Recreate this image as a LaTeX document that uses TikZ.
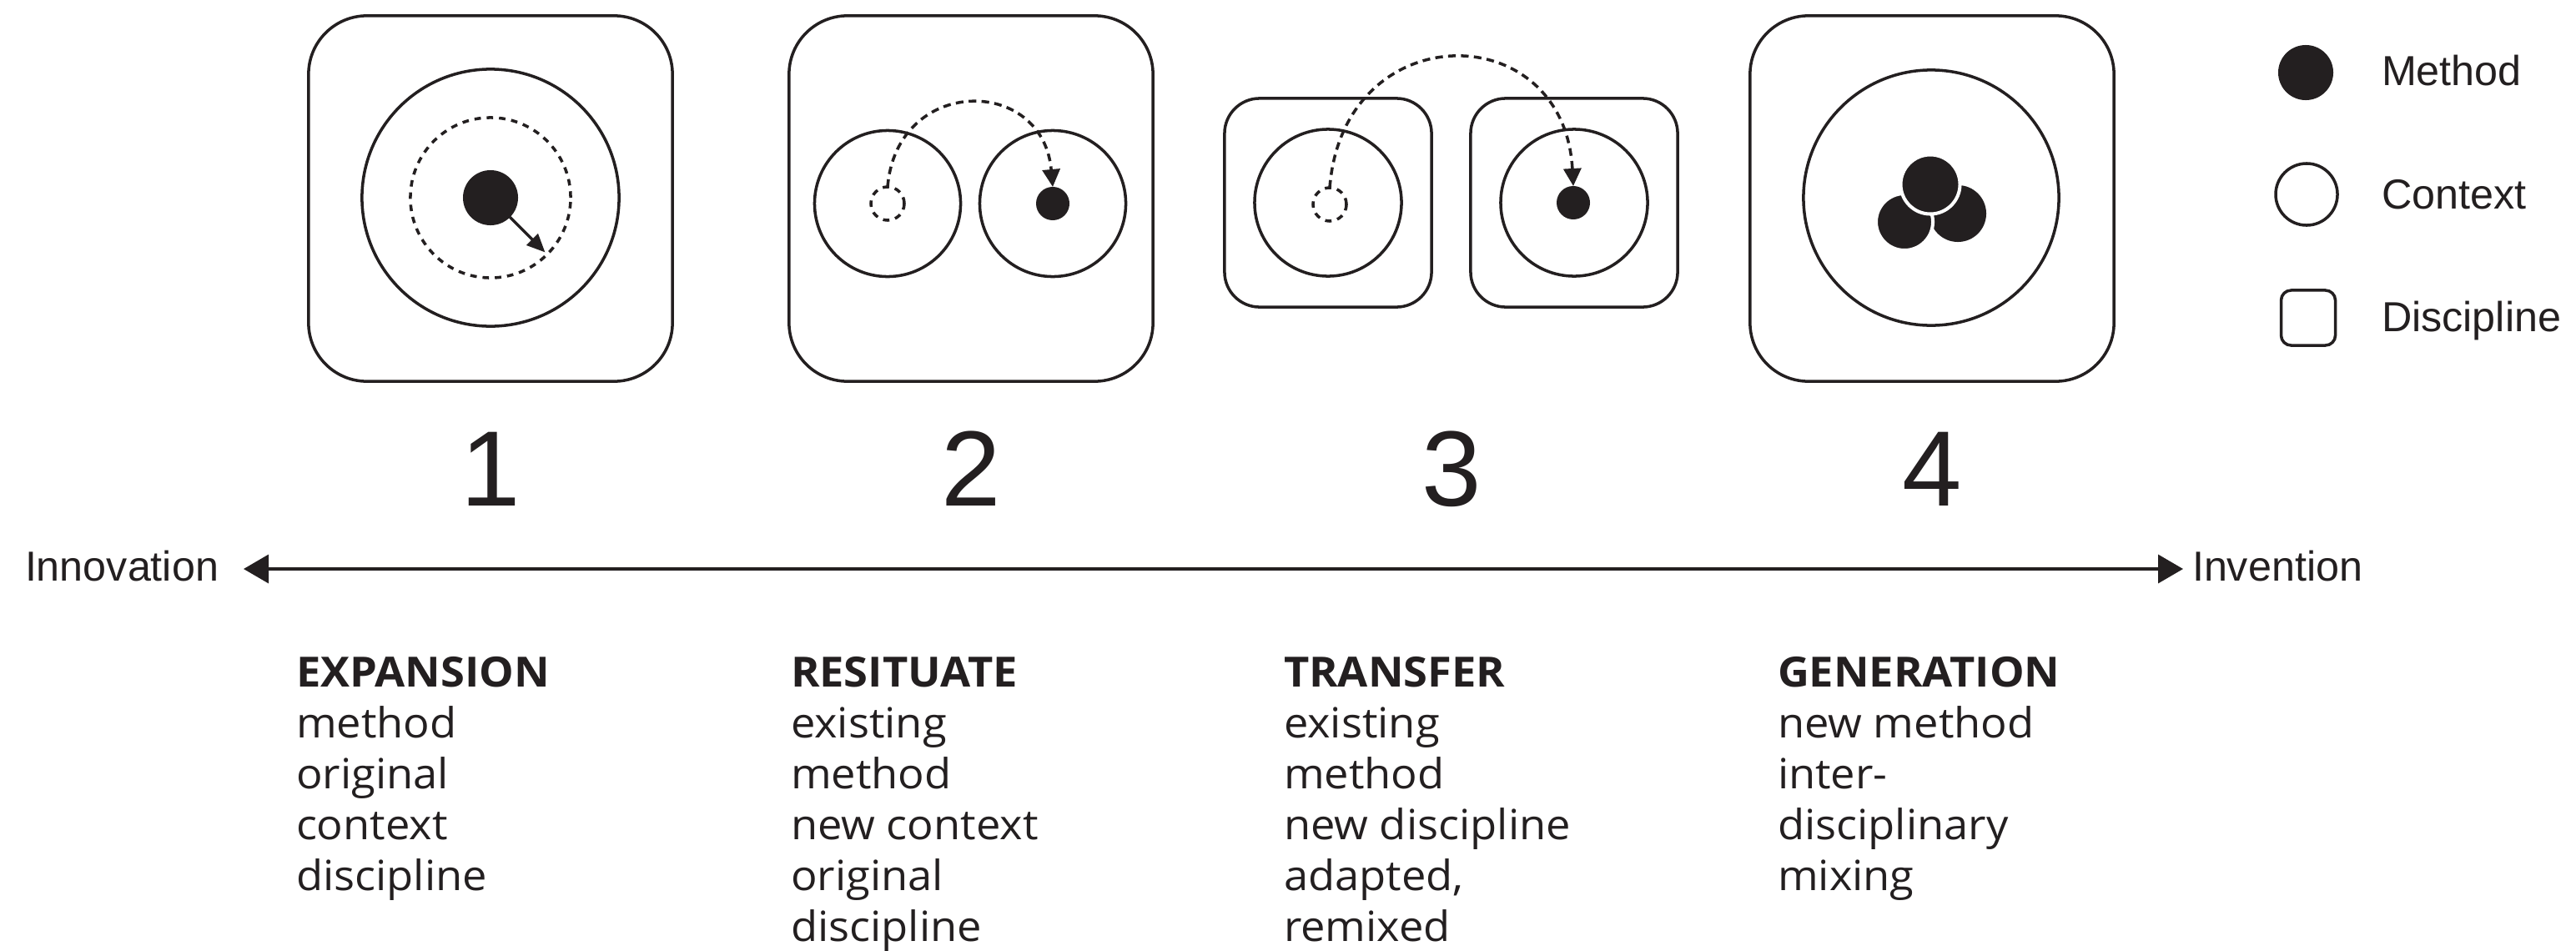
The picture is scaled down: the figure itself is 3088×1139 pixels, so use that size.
\documentclass[tikz,border=0pt]{standalone}
\usepackage{fontspec}
\setmainfont[FakeStretch=1.05]{Open Sans}
\newfontfamily\labelfont{Liberation Sans}
\usetikzlibrary{arrows.meta}
\definecolor{ink}{RGB}{35,31,32}

\begin{document}
\begin{tikzpicture}[x=0.01cm,y=-0.01cm,line width=1pt,draw=ink,text=ink,
	every node/.style={inner sep=0pt,outer sep=0pt},
	bigbox/.style={draw,rounded corners=0.7cm,minimum width=4.36cm,minimum height=4.38cm},
	smallbox/.style={draw,rounded corners=0.42cm,minimum width=2.48cm,minimum height=2.5cm},
	context/.style={draw,circle,minimum size=#1},
	method/.style={circle,fill=ink,minimum size=#1},
	ghost/.style={draw,circle,dash pattern=on 2.2pt off 2pt,minimum size=#1},
	hop/.style={-{Triangle[length=0.21cm,width=0.21cm]},dash pattern=on 2.6pt off 1.8pt},
	numeral/.style={font=\labelfont\fontsize{36.5}{40}\selectfont,anchor=base},
	pole/.style={font=\labelfont\fontsize{14.3}{17}\selectfont,anchor=base west},
	stage/.style={font=\fontsize{14.2}{17.35}\selectfont,anchor=base west}]
\useasboundingbox (0,0) rectangle (3088,1139);

% 1 expansion
\node[bigbox] (d1) at (588,238) {};
\node[context=3.08cm] (c1) at (588,237) {};
\node[ghost=1.92cm] (g1) at (588,237) {};
\node[method=0.66cm] (m1) at (588,237) {};
\draw[-{Triangle[length=0.22cm,width=0.19cm]},shorten >=1pt] (m1.-45) -- (g1.-45);

% 2 resituate
\node[bigbox] (d2) at (1164,238) {};
\node[context=1.75cm] (c2a) at (1064,244) {};
\node[context=1.75cm] (c2b) at (1262,244) {};
\node[ghost=0.4cm] (g2) at (1064,244) {};
\node[method=0.4cm] (m2) at (1262,244) {};
\draw[hop] (g2.north) .. controls +(11,-133) and +(-12,-134) .. (m2.north);

% 3 transfer
\node[smallbox] (d3a) at (1592,243) {};
\node[smallbox] (d3b) at (1887,243) {};
\node[context=1.76cm] (c3a) at (1592,243) {};
\node[context=1.76cm] (c3b) at (1887,243) {};
\node[ghost=0.4cm] (g3) at (1594,245) {};
\node[method=0.4cm] (m3) at (1886,243) {};
\draw[hop] (g3.north) .. controls +(16,-207) and +(-11,-205) .. (m3.north);

% 4 generation
\node[bigbox] (d4) at (2316,238) {};
\node[context=3.06cm] (c4) at (2315,237) {};
\node[method=0.68cm] (m4c) at (2347,256) {};
\node[method=0.68cm,draw=white,line width=1.15pt] (m4b) at (2283,266) {};
\node[method=0.71cm,draw=white,line width=1.15pt] (m4a) at (2314,221) {};

% legend
\node[method=0.66cm] (lm) at (2764,87) {};
\node[context=0.74cm] (lc) at (2765,233) {};
\node[draw,rounded corners=0.12cm,minimum width=0.65cm,minimum height=0.66cm] (ld) at (2767,381) {};
\node[pole] (lmt) at (2855,102) {Method};
\node[pole] (lct) at (2855,250) {Context};
\node[pole] (ldt) at (2855,397) {Discipline};

% numbers
\foreach[count=\c] \x in {588,1164,1740,2316}
	\node[numeral] (n\c) at (\x,606) {\c};

% axis
\coordinate (left) at (292,682);
\coordinate (right) at (2617,682);
\node[pole] (innov) at (30,696) {Innovation};
\node[pole] (inv) at (2628,696) {Invention};
\draw[{Triangle[length=0.3cm,width=0.34cm]}-{Triangle[length=0.3cm,width=0.34cm]}] (left) -- (right);

% stages
\foreach[count=\c] \x/\txt in {355/{\textbf{EXPANSION}\\method\\original\\context\\discipline},
	948/{\textbf{RESITUATE}\\existing\\method\\new context\\original\\discipline},
	1539/{\textbf{TRANSFER}\\existing\\method\\new discipline\\adapted,\\remixed},
	2131/{\textbf{GENERATION}\\new method\\inter-\\disciplinary\\mixing}}
	\node[stage] (s\c) at (\x,823) {\begin{tabular}[t]{@{}l@{}}\txt\end{tabular}};
\end{tikzpicture}
\end{document}
